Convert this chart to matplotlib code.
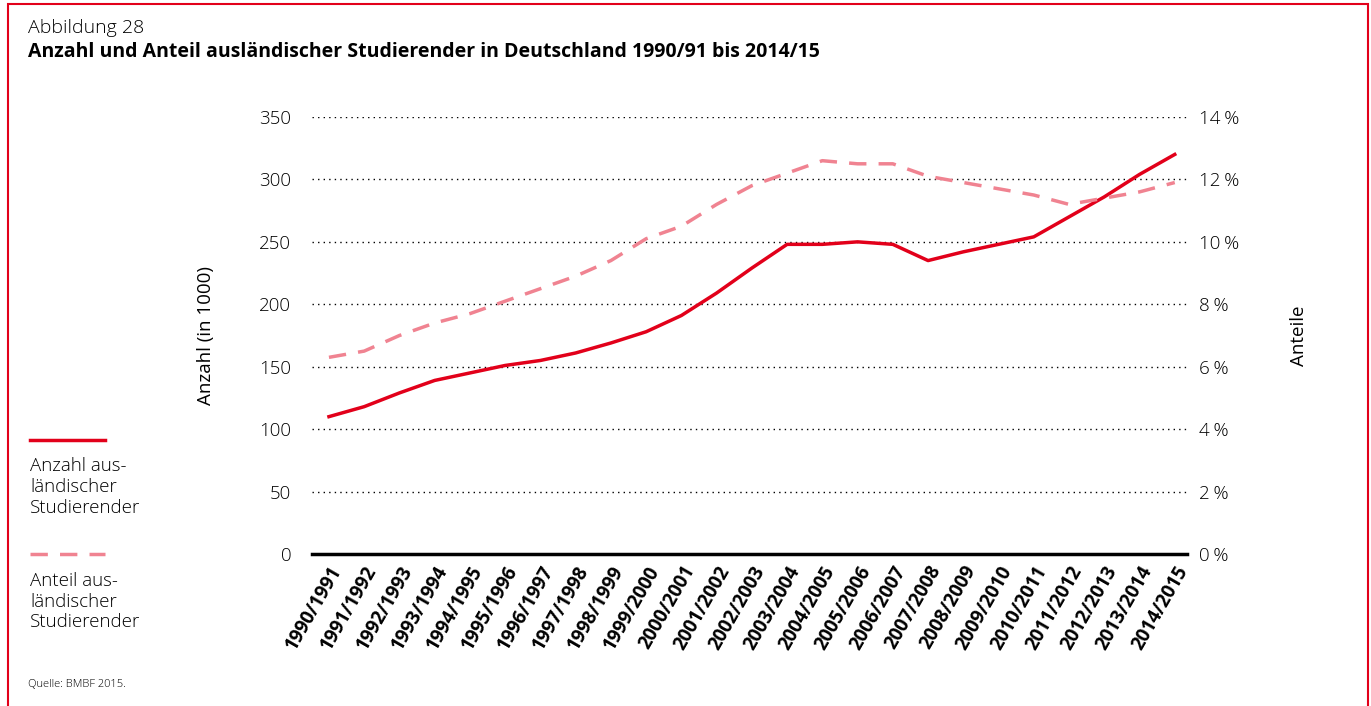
import matplotlib
matplotlib.use('Agg')
import matplotlib.pyplot as plt
import numpy as np

plt.rcParams['font.family'] = ['Open Sans', 'DejaVu Sans']
plt.rcParams['font.weight'] = 'light'

# Daten
semester = ["1990/1991", "1991/1992", "1992/1993", "1993/1994", "1994/1995",
            "1995/1996", "1996/1997", "1997/1998", "1998/1999", "1999/2000",
            "2000/2001", "2001/2002", "2002/2003", "2003/2004", "2004/2005",
            "2005/2006", "2006/2007", "2007/2008", "2008/2009", "2009/2010",
            "2010/2011", "2011/2012", "2012/2013", "2013/2014", "2014/2015"]
anzahl = [110, 118, 129, 139, 145, 151, 155, 161, 169, 178, 191, 209, 229,
          248, 248, 250, 248, 235, 242, 248, 254, 270, 286, 304, 320]
anteil = [6.3, 6.5, 7.0, 7.4, 7.7, 8.1, 8.5, 8.9, 9.4, 10.1, 10.5, 11.2, 11.8,
          12.2, 12.6, 12.5, 12.5, 12.1, 11.9, 11.7, 11.5, 11.2, 11.4, 11.6, 11.9]

rot = "#E2001A"
rosa = "#F08391"

fig = plt.figure(figsize=(13.71, 7.06), dpi=100)

# roter Rahmen
fig.patches.append(plt.Rectangle((0.0058, -0.02), 0.992, 1.0143, transform=fig.transFigure,
                                 fill=False, edgecolor=rot, linewidth=1.5))

ax = fig.add_axes([0.2276, 0.2153, 0.638, 0.619])
ax2 = ax.twinx()

x = np.arange(len(semester))
ax.plot(x, anzahl, color=rot, linewidth=2.5, zorder=3)
ax2.plot(x, anteil, color=rosa, linewidth=2.5, dashes=(5, 3.5), zorder=3)

ax.set_xlim(-0.48, 24.34)
ax.set_ylim(0, 350)
ax2.set_ylim(0, 14)
ax.set_yticks(np.arange(0, 351, 50))
ax2.set_yticks(np.arange(0, 15, 2))
ax2.set_yticklabels([f"{v}\u2009%" for v in range(0, 15, 2)])

ax.set_xticks(x)
ax.set_xticklabels(semester, rotation=60, ha='right', rotation_mode='anchor',
                   fontsize=8.5, fontweight='bold')

for a in (ax, ax2):
    for s in a.spines.values():
        s.set_visible(False)
    a.tick_params(length=0, labelsize=13.5)
ax.spines['bottom'].set_visible(True)
ax.spines['bottom'].set_linewidth(2.5)
ax.tick_params(axis='y', pad=15)
ax.tick_params(axis='x', pad=6)
ax2.tick_params(axis='y', pad=9)

for v in np.arange(50, 351, 50):
    ax.axhline(v, color='black', linestyle=(0, (1, 3)), linewidth=1, zorder=1)

ax.set_ylabel("Anzahl (in 1000)", fontsize=13.5, labelpad=32)
ax2.set_ylabel("Anteile", fontsize=13.5, labelpad=36)

# Titel
fig.text(0.0204, 0.961, "Abbildung 28", fontsize=14, va='center')
fig.text(0.0204, 0.926, "Anzahl und Anteil ausländischer Studierender in Deutschland 1990/91 bis 2014/15",
         fontsize=14, fontweight='bold', va='center')

# Legende links
fig.add_artist(plt.Line2D([0.0219, 0.0766], [0.377, 0.377], color=rot, linewidth=2.5))
fig.text(0.0219, 0.352, "Anzahl aus-\nländischer\nStudierender", fontsize=13.5, va='top', linespacing=1.2)
fig.add_artist(plt.Line2D([0.0219, 0.0766], [0.216, 0.216], color=rosa, linewidth=2.5, dashes=(5, 3.5)))
fig.text(0.0219, 0.19, "Anteil aus-\nländischer\nStudierender", fontsize=13.5, va='top', linespacing=1.2)

fig.text(0.0204, 0.031, "Quelle: BMBF 2015.", fontsize=8, va='center')

fig.savefig("out.png", dpi=100)
